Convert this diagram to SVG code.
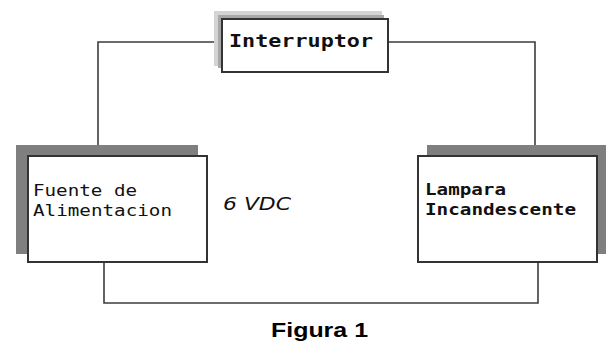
<svg xmlns="http://www.w3.org/2000/svg" width="606" height="343" viewBox="0 0 606 343">
  <style>
    .wire { fill: none; stroke: #3c3c3c; stroke-width: 1.6; }
    .box { fill: #ffffff; stroke: #333333; stroke-width: 2; }
    .shadow { fill: #7f7f7f; }
    .mono { font-family: "DejaVu Sans Mono", "Liberation Mono", monospace; fill: #111111; }
  </style>
  <rect width="606" height="343" fill="#ffffff"/>

  <!-- wires of the circuit -->
  <g id="connectors">
    <polyline class="wire" points="98,156 98,42 222,42"/>
    <polyline class="wire" points="388,42 535,42 535,156"/>
    <polyline class="wire" points="104,262 104,303 538,303 538,262"/>
  </g>

  <!-- switch -->
  <g id="interruptor">
    <rect x="214" y="11" width="168" height="55" fill="#d4d4d4"/>
    <rect x="218" y="15" width="166" height="53" fill="#a8a8a8"/>
    <rect class="box" x="222" y="19" width="166" height="53"/>
    <text class="mono" x="229" y="47" font-size="17" font-weight="bold" textLength="144" lengthAdjust="spacingAndGlyphs">Interruptor</text>
  </g>

  <!-- power supply -->
  <g id="fuente">
    <rect class="shadow" x="16" y="145" width="182" height="109"/>
    <rect class="box" x="28" y="156" width="179" height="106"/>
    <text class="mono" x="33" y="196" font-size="15" textLength="104" lengthAdjust="spacingAndGlyphs">Fuente de</text>
    <text class="mono" x="33" y="216" font-size="15" textLength="139" lengthAdjust="spacingAndGlyphs">Alimentacion</text>
  </g>

  <!-- lamp -->
  <g id="lampara">
    <rect class="shadow" x="427" y="145" width="179" height="109"/>
    <rect class="box" x="418" y="156" width="179" height="106"/>
    <text class="mono" x="425" y="195" font-size="15" font-weight="bold" textLength="81" lengthAdjust="spacingAndGlyphs">Lampara</text>
    <text class="mono" x="425" y="215" font-size="15" font-weight="bold" textLength="151" lengthAdjust="spacingAndGlyphs">Incandescente</text>
  </g>

  <text x="223" y="210" font-family="'DejaVu Sans', Verdana, sans-serif" font-style="italic" font-size="18" fill="#111111" textLength="68" lengthAdjust="spacingAndGlyphs">6 VDC</text>

  <text x="271" y="337" font-family="'Liberation Sans', Arial, sans-serif" font-weight="bold" font-size="21" fill="#000000" textLength="97" lengthAdjust="spacingAndGlyphs">Figura 1</text>
</svg>
